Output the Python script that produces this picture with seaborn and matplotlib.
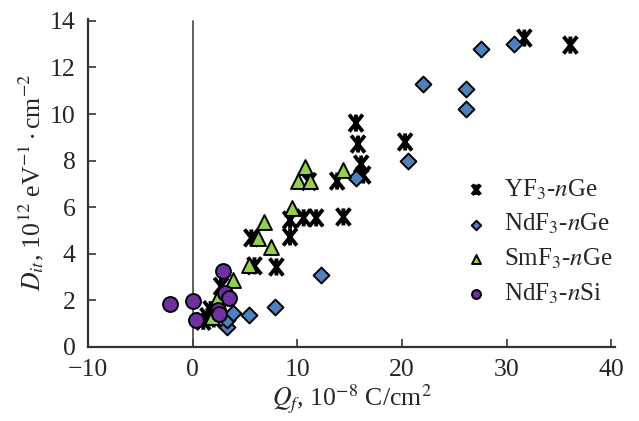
import pandas as pd
import matplotlib
matplotlib.use("Agg")
import matplotlib.pyplot as plt
from matplotlib.path import Path
import seaborn as sns

# data (Qf, Dit)
yf3_q = [1.0, 1.4, 1.7, 2.0, 2.5, 2.7, 5.6, 5.9, 8.0, 9.3, 9.3, 10.6, 11.1, 11.8,
         13.8, 14.4, 15.6, 15.8, 16.1, 16.3, 20.3, 31.7, 36.1]
yf3_d = [1.1, 1.3, 1.6, 1.2, 1.5, 2.6, 4.68, 3.48, 3.43, 5.45, 4.72, 5.54, 7.1, 5.54,
         7.12, 5.58, 9.61, 8.71, 7.85, 7.38, 8.8, 13.26, 12.96]

ndge_q = [3.3, 3.3, 3.8, 5.4, 7.9, 12.3, 15.6, 20.6, 22.0, 26.1, 26.1, 27.6, 30.7]
ndge_d = [0.86, 1.16, 1.46, 1.37, 1.72, 3.1, 7.25, 8.0, 11.3, 11.07, 10.2, 12.8, 13.0]

smge_q = [1.8, 2.4, 3.8, 5.4, 6.2, 6.8, 7.5, 9.5, 10.1, 10.7, 11.2, 14.4]
smge_d = [1.3, 2.15, 2.88, 3.52, 4.68, 5.36, 4.3, 5.96, 7.12, 7.73, 7.12, 7.6]

ndsi_q = [-2.2, 0.0, 0.3, 2.4, 2.5, 2.9, 3.1, 3.5]
ndsi_d = [1.85, 1.98, 1.15, 1.6, 1.4, 3.25, 2.3, 2.1]

labels = ["YF$_3$-$n$Ge", "NdF$_3$-$n$Ge", "SmF$_3$-$n$Ge", "NdF$_3$-$n$Si"]

# X with a vertical bar, like the asterisk in the original figure
star = Path([(-0.8, -1), (0.8, 1), (-0.8, 1), (0.8, -1), (0, -1), (0, 1)],
            [Path.MOVETO, Path.LINETO, Path.MOVETO, Path.LINETO, Path.MOVETO, Path.LINETO])

sns.set_style("ticks")
plt.rcParams["font.family"] = ["Liberation Serif", "DejaVu Serif"]
plt.rcParams["mathtext.fontset"] = "stix"

fig = plt.figure(figsize=(6.39, 4.21), dpi=100)
ax = fig.add_axes([0.138, 0.176, 0.825, 0.78])

ax.axvline(0, ymin=0, ymax=14 / 14.1, color="#444444", lw=1.2, zorder=1)

groups = [
    (yf3_q, yf3_d, dict(marker=star, facecolor="none", edgecolor="black", s=150, linewidth=2.8)),
    (ndge_q, ndge_d, dict(marker="D", color="#4f81bd", edgecolor="black", s=65, linewidth=1.4)),
    (smge_q, smge_d, dict(marker="^", color="#92d050", edgecolor="black", s=115, linewidth=1.4)),
    (ndsi_q, ndsi_d, dict(marker="o", color="#7030a0", edgecolor="black", s=115, linewidth=1.4)),
]
for (q, d, kw), lab in zip(groups, labels):
    df = pd.DataFrame({"Qf": q, "Dit": d})
    sns.scatterplot(data=df, x="Qf", y="Dit", ax=ax, label=lab, zorder=3, **kw)

ax.set_xlim(-10, 40.4)
ax.set_ylim(0, 14.1)
ax.set_xticks([-10, 0, 10, 20, 30, 40])
ax.set_xticklabels(["\u221210", "0", "10", "20", "30", "40"])
ax.set_yticks(range(0, 15, 2))
ax.tick_params(direction="in", length=6, width=1.2, labelsize=18.5, color="#333333")
ax.tick_params(axis="x", pad=9)
ax.tick_params(axis="y", pad=9)
for side in ["top", "right"]:
    ax.spines[side].set_visible(False)
for side in ["left", "bottom"]:
    ax.spines[side].set_linewidth(1.6)
    ax.spines[side].set_color("#333333")

ax.set_xlabel("$Q_f$, 10$^{-8}$ C/cm$^2$", fontsize=18.5, labelpad=1)
ax.set_ylabel("$D_{it}$, 10$^{12}$ eV$^{-1}\\cdot$cm$^{-2}$", fontsize=18.5, labelpad=3)

leg = ax.legend(loc="upper left", bbox_to_anchor=(0.665, 0.585), frameon=False,
                fontsize=18, markerscale=0.6, handletextpad=0.5, labelspacing=0.42,
                handlelength=1.2)

fig.savefig("out.png", dpi=100)
